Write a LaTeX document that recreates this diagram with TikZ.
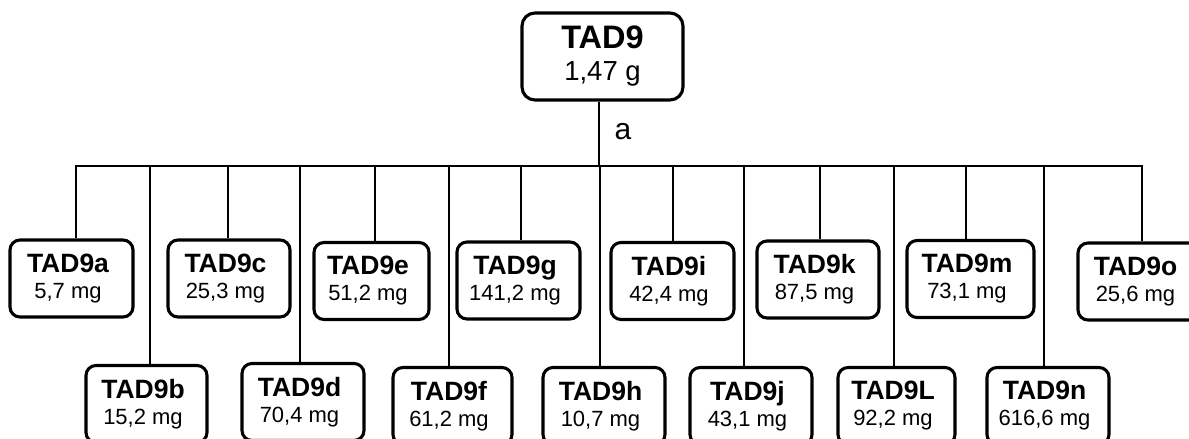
\documentclass[tikz,border=0pt]{standalone}
\usepackage{fontspec}
\setmainfont{Liberation Sans}
\tikzset{
  box/.style={draw, line width=3.1pt, rounded corners=10pt, minimum height=77pt,
    align=center, inner sep=0pt, font=\fontsize{22}{26}\selectfont},
  topbox/.style={box, rounded corners=13pt, minimum width=161pt, minimum height=87pt,
    font=\fontsize{27.5}{32}\selectfont},
  link/.style={line width=2.9pt},
  lbl/.style={font=\fontsize{30}{32}\selectfont, inner sep=0pt},
}
\newcommand{\bxt}[2]{{\bfseries\fontsize{26.5}{26}\selectfont #1}\hspace*{7pt}\\#2\hspace*{7pt}}
\begin{document}
\begin{tikzpicture}[x=1pt,y=-1pt]
\useasboundingbox (0,0) rectangle (1189,439);
\clip (0,0) rectangle (1189,439);
% top node
\node[topbox] (top) at (602.5,56.5) {{\bfseries\fontsize{32.5}{32}\selectfont TAD9}\\1,47 g};
% children
\node[box, minimum width=123pt] (a) at (71.5,278.5) {\bxt{TAD9a}{5,7 mg}};
\node[box, minimum width=121pt] (b) at (146.5,404) {\bxt{TAD9b}{15,2 mg}};
\node[box, minimum width=122pt] (c) at (229,278.5) {\bxt{TAD9c}{25,3 mg}};
\node[box, minimum width=122pt] (d) at (303,402) {\bxt{TAD9d}{70,4 mg}};
\node[box, minimum width=115pt] (e) at (371.5,281) {\bxt{TAD9e}{51,2 mg}};
\node[box, minimum width=119pt] (f) at (452.5,406) {\bxt{TAD9f}{61,2 mg}};
\node[box, minimum width=123pt] (g) at (518.5,280.5) {\bxt{TAD9g}{141,2 mg}};
\node[box, minimum width=122pt] (h) at (604,406) {\bxt{TAD9h}{10,7 mg}};
\node[box, minimum width=123pt] (i) at (672.5,281) {\bxt{TAD9i}{42,4 mg}};
\node[box, minimum width=122pt] (j) at (751,406) {\bxt{TAD9j}{43,1 mg}};
\node[box, minimum width=122pt] (k) at (818,279.5) {\bxt{TAD9k}{87,5 mg}};
\node[box, minimum width=117pt] (L) at (896.5,406) {\bxt{TAD9L}{92,2 mg}};
\node[box, minimum width=127pt] (m) at (970.5,279) {\bxt{TAD9m}{73,1 mg}};
\node[box, minimum width=122pt] (n) at (1048,406) {\bxt{TAD9n}{616,6 mg}};
\node[box, minimum width=122pt] (o) at (1139,281.5) {\bxt{TAD9o}{25,6 mg}};
% bus and taps
\coordinate (hub) at (599,166);
\foreach \n/\x in {a/76,b/150,c/228,d/300,e/375,f/449,g/521,h/600,i/673,j/744,k/820,L/894,m/966,n/1044,o/1142}{
  \coordinate (t\n) at (\x,166);
  \draw[link] (t\n) -- (t\n |- \n.north);
}
\draw[link, line cap=rect] (ta) -- (to);
\draw[link] (top.south -| hub) -- (hub);
\node[lbl] (alab) at (623,132) {a};
\end{tikzpicture}
\end{document}
